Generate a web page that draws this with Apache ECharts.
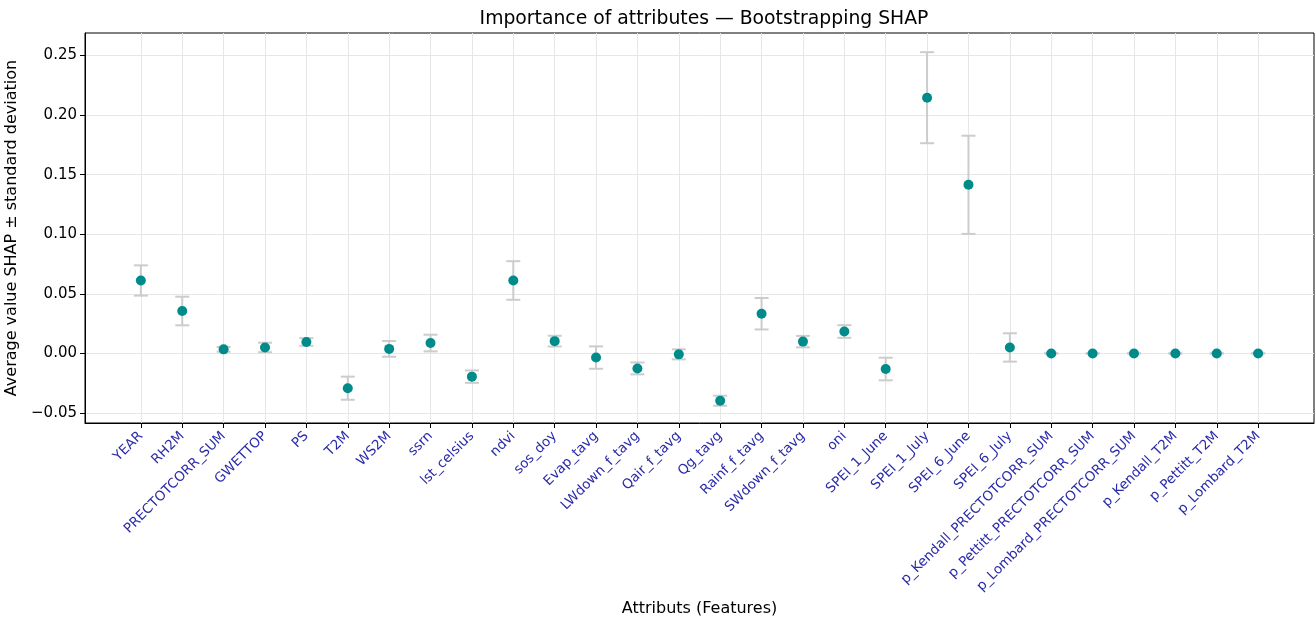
<!DOCTYPE html>
<html>
<head>
<meta charset="utf-8">
<script src="https://cdn.jsdelivr.net/npm/echarts@6/dist/echarts.min.js"></script>
<style>html,body{margin:0;padding:0;background:#fff;}#c{width:1315px;height:619px;}</style>
</head>
<body>
<div id="c"></div>
<script>
const categories = ["YEAR","RH2M","PRECTOTCORR_SUM","GWETTOP","PS","T2M","WS2M","ssrn","lst_celsius","ndvi","sos_doy","Evap_tavg","LWdown_f_tavg","Qair_f_tavg","Qg_tavg","Rainf_f_tavg","SWdown_f_tavg","oni","SPEI_1_June","SPEI_1_July","SPEI_6_June","SPEI_6_July","p_Kendall_PRECTOTCORR_SUM","p_Pettitt_PRECTOTCORR_SUM","p_Lombard_PRECTOTCORR_SUM","p_Kendall_T2M","p_Pettitt_T2M","p_Lombard_T2M"];
const meanValues = [0.0612,0.0356,0.0034,0.0050,0.0096,-0.0292,0.0038,0.0087,-0.0195,0.0612,0.0103,-0.0035,-0.0126,-0.0008,-0.0397,0.0333,0.0099,0.0184,-0.0131,0.2146,0.1415,0.0050,0.0000,0.0000,0.0000,0.0000,0.0000,0.0000];
const stdValues = [0.0127,0.0120,0.0020,0.0040,0.0032,0.0097,0.0066,0.0070,0.0052,0.0162,0.0045,0.0094,0.0050,0.0042,0.0042,0.0132,0.0048,0.0053,0.0095,0.0382,0.0412,0.0119,0.0000,0.0000,0.0000,0.0000,0.0000,0.0000];
const yTicks = [-0.05,0.00,0.05,0.10,0.15,0.20,0.25];

const idx = categories.map((_, i) => i);
const font = "DejaVu Sans";
const chart = echarts.init(document.getElementById('c'), null, {renderer: 'canvas'});
chart.setOption({
  animation: false,
  backgroundColor: '#fff',
  title: {
    text: 'Importance of attributes — Bootstrapping SHAP',
    left: 699, top: 5, textAlign: 'center',
    textStyle: {fontFamily: font, fontSize: 18.8, fontWeight: 'normal', color: '#000'}
  },
  grid: {left: 85, right: 1, top: 33, bottom: 196, containLabel: false, outerBoundsMode: 'none',
    show: true, borderColor: '#000', borderWidth: 1, backgroundColor: 'transparent'},
  xAxis: {
    type: 'value', min: -1.35, max: 28.35,
    name: 'Attributs (Features)', nameLocation: 'middle', nameGap: 171,
    nameTextStyle: {fontFamily: font, fontSize: 16, color: '#000'},
    axisLine: {show: true, onZero: false, lineStyle: {color: '#000'}},
    axisTick: {show: true, inside: false, customValues: idx, length: 5, lineStyle: {color: '#000'}},
    axisLabel: {customValues: idx, rotate: 45, fontFamily: font, fontSize: 13.5, color: '#2b2baa', margin: 11,
      formatter: v => categories[Math.round(v)] || ''},
    splitLine: {show: true, lineStyle: {color: '#e6e6e6', width: 1}}
  },
  yAxis: {
    type: 'value', min: -0.0584, max: 0.2689,
    name: 'Average value SHAP ± standard deviation', nameLocation: 'middle', nameGap: 58,
    nameTextStyle: {fontFamily: font, fontSize: 16, color: '#000'},
    axisLine: {show: true, onZero: false, lineStyle: {color: '#000'}},
    axisTick: {show: true, inside: false, customValues: yTicks, length: 5, lineStyle: {color: '#000'}},
    axisLabel: {customValues: yTicks, fontFamily: font, fontSize: 15, color: '#000', margin: 8,
      formatter: v => (v < 0 ? '\u2212' : '') + Math.abs(v).toFixed(2)},
    splitLine: {show: true, lineStyle: {color: '#e6e6e6', width: 1}}
  },
  series: [
    {
      type: 'custom',
      z: 2,
      data: idx.map(i => [i, meanValues[i] - stdValues[i], meanValues[i] + stdValues[i]]),
      renderItem: function (params, api) {
        const x = api.value(0);
        const lo = api.coord([x, api.value(1)]);
        const hi = api.coord([x, api.value(2)]);
        const hw = 7;
        const style = {stroke: '#cccccc', lineWidth: 2, fill: null};
        return {
          type: 'group',
          children: [
            {type: 'line', shape: {x1: lo[0], y1: lo[1], x2: hi[0], y2: hi[1]}, style: style},
            {type: 'line', shape: {x1: lo[0] - hw, y1: lo[1], x2: lo[0] + hw, y2: lo[1]}, style: style},
            {type: 'line', shape: {x1: hi[0] - hw, y1: hi[1], x2: hi[0] + hw, y2: hi[1]}, style: style}
          ]
        };
      }
    },
    {
      type: 'scatter',
      z: 3,
      symbolSize: 10,
      itemStyle: {color: '#008b8b', opacity: 1},
      data: idx.map(i => [i, meanValues[i]])
    }
  ]
});
</script>
</body>
</html>
